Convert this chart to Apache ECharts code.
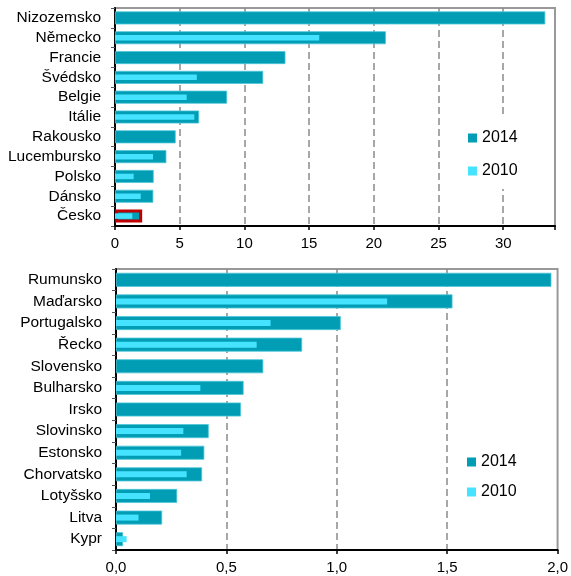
<!DOCTYPE html>
<html>
<head>
<meta charset="utf-8">
<script src="https://cdn.jsdelivr.net/npm/echarts@6/dist/echarts.min.js"></script>
<style>
  html, body { margin: 0; padding: 0; background: #fff; }
  #chart { width: 571px; height: 576px; }
</style>
</head>
<body>
<div id="chart"></div>
<script>
// Upper panel: larger countries
const topCountries = ['Nizozemsko', 'Německo', 'Francie', 'Švédsko', 'Belgie', 'Itálie',
  'Rakousko', 'Lucembursko', 'Polsko', 'Dánsko', 'Česko'];
const top2014 = [33.25, 20.93, 13.17, 11.45, 8.66, 6.5, 4.69, 3.97, 2.99, 2.96, 2.1];
const top2010 = [null, 15.78, null, 6.32, 5.54, 6.13, null, 2.94, 1.44, 1.99, 1.34];
const topTicks = ['0', '5', '10', '15', '20', '25', '30'];

// Lower panel: smaller countries
const bottomCountries = ['Rumunsko', 'Maďarsko', 'Portugalsko', 'Řecko', 'Slovensko', 'Bulharsko',
  'Irsko', 'Slovinsko', 'Estonsko', 'Chorvatsko', 'Lotyšsko', 'Litva', 'Kypr'];
const bottom2014 = [1.972, 1.524, 1.018, 0.843, 0.667, 0.578, 0.566, 0.42, 0.40, 0.39, 0.277, 0.209, 0.032];
const bottom2010 = [null, 1.228, 0.70, 0.637, null, 0.382, null, 0.305, 0.295, 0.32, 0.154, 0.102, 0.048];
const bottomTicks = ['0,0', '0,5', '1,0', '1,5', '2,0'];

const highlightCountry = 'Česko';

const C2014 = '#009db5';
const C2010 = '#45e3ff';
const FONT = 'Liberation Sans, Arial, sans-serif';

const chart = echarts.init(document.getElementById('chart'), null, { renderer: 'canvas' });

function valueAxis(gridIndex, max, interval, labels) {
  return {
    type: 'value', gridIndex, min: 0, max, interval,
    axisLine: { show: true, lineStyle: { color: '#000', width: 2 } },
    axisTick: { show: true, length: 4, lineStyle: { color: '#000', width: 1.5 } },
    axisLabel: {
      margin: 10, color: '#000', fontSize: 15, fontFamily: FONT,
      showMaxLabel: true,
      formatter: (v) => {
        const i = Math.round(v / interval);
        return Math.abs(v - i * interval) < 1e-9 && labels[i] !== undefined ? labels[i] : '';
      }
    },
    splitLine: {
      show: true, showMinLine: false, showMaxLine: false,
      lineStyle: { color: '#8a8a8a', width: 1.5, type: [7, 4] }
    }
  };
}

function catAxis(gridIndex, data, visible) {
  return {
    type: 'category', gridIndex, data, inverse: true,
    show: visible,
    axisLine: { show: true, lineStyle: { color: '#000', width: 2 } },
    axisTick: { show: true, interval: 0, length: 4, lineStyle: { color: '#555', width: 1 } },
    axisLabel: { interval: 0, margin: 14, color: '#000', fontSize: 15.5, fontFamily: FONT },
    splitLine: { show: false }
  };
}

const top2014Data = top2014.map((v, i) => topCountries[i] === highlightCountry
  ? { value: v, itemStyle: { borderColor: '#c00000', borderWidth: 3 } }
  : v);

const legendBase = {
  orient: 'vertical',
  backgroundColor: '#fff',
  padding: [10, 12, 10, 10],
  itemWidth: 9, itemHeight: 9, itemGap: 17,
  icon: 'rect',
  itemStyle: { borderWidth: 0 },
  textStyle: { color: '#000', fontSize: 16, fontFamily: FONT },
  data: ['2014', '2010']
};

chart.setOption({
  animation: false,
  grid: [
    { left: 115, top: 8, right: 16, height: 218, show: true, borderColor: '#999', borderWidth: 2, backgroundColor: 'transparent' },
    { left: 116, top: 269, right: 12, height: 281, show: true, borderColor: '#999', borderWidth: 2, backgroundColor: 'transparent' }
  ],
  legend: [
    Object.assign({}, legendBase, { left: 458, top: 117, padding: [13, 12, 10, 10] }),
    Object.assign({}, legendBase, { left: 457, top: 444, itemGap: 14 })
  ],
  xAxis: [
    valueAxis(0, 34, 5, topTicks),
    valueAxis(1, 2, 0.5, bottomTicks)
  ],
  yAxis: [
    catAxis(0, topCountries, true),
    catAxis(0, topCountries, false),
    catAxis(1, bottomCountries, true),
    catAxis(1, bottomCountries, false)
  ],
  series: [
    { name: '2014', type: 'bar', xAxisIndex: 0, yAxisIndex: 0, data: top2014Data, barWidth: 13,
      itemStyle: { color: C2014, borderColor: '#4cc6d8', borderWidth: 0.8 } },
    { name: '2010', type: 'bar', xAxisIndex: 0, yAxisIndex: 1, data: top2010, barWidth: 5.5, z: 3,
      itemStyle: { color: C2010 } },
    { name: '2014', type: 'bar', xAxisIndex: 1, yAxisIndex: 2, data: bottom2014, barWidth: 14,
      itemStyle: { color: C2014, borderColor: '#4cc6d8', borderWidth: 0.8 } },
    { name: '2010', type: 'bar', xAxisIndex: 1, yAxisIndex: 3, data: bottom2010, barWidth: 6, z: 3,
      itemStyle: { color: C2010 } }
  ]
});
</script>
</body>
</html>
